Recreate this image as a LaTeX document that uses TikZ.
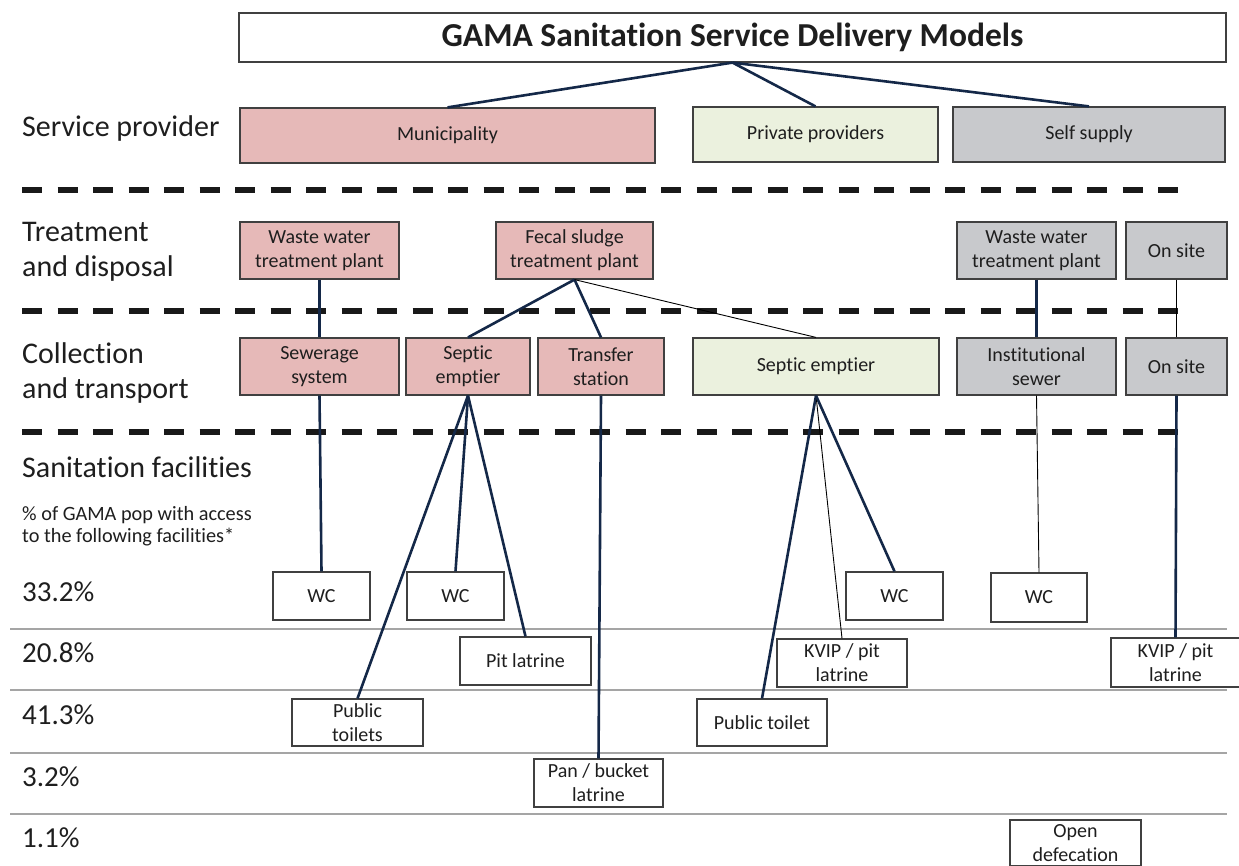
\documentclass[tikz,border=0pt]{standalone}
\usepackage{fontspec}
\setmainfont{Carlito}[Ligatures=NoCommon]
\definecolor{munfill}{RGB}{230,185,184}
\definecolor{privfill}{RGB}{235,241,222}
\definecolor{selffill}{RGB}{200,201,204}
\definecolor{boxline}{RGB}{64,64,64}
\definecolor{navy}{RGB}{20,40,72}
\definecolor{txt}{RGB}{30,30,30}
\definecolor{rulec}{RGB}{165,165,165}
\definecolor{dashc}{RGB}{25,25,25}
\tikzset{
  box/.style={draw=boxline, line width=1.2pt, inner sep=0pt, align=center,
    minimum height=57pt, text=txt, font=\fontsize{20}{24}\selectfont},
  mun/.style={box, fill=munfill},
  priv/.style={box, fill=privfill},
  self/.style={box, fill=selffill},
  fac/.style={box, fill=white, minimum height=48pt},
  link/.style={draw=navy, line width=2.6pt},
  thinlink/.style={draw=black, line width=0.9pt},
  sep/.style={draw=dashc, line width=6pt, dash pattern=on 20pt off 15.5pt},
  rowrule/.style={draw=rulec, line width=1.5pt},
  lab/.style={anchor=north west, inner sep=0pt, align=left, text=txt,
    font=\fontsize{30}{35}\selectfont},
  pct/.style={lab, anchor=base west, font=\fontsize{29}{35}\selectfont},
}
\begin{document}
\begin{tikzpicture}[x=1pt, y=-1pt]
\useasboundingbox (0,0) rectangle (1239,866);

% rules between the percentage rows
\foreach \yy in {629,690,753,814}
  \draw[rowrule] (10,\yy) -- (1227,\yy);

% level separators
\foreach \yy in {190,311,432}
  \draw[sep] (22,\yy) -- (1183,\yy);

% row labels (top edges set from the cap height of the first line)
\node[lab, anchor=base west] (lprov) at (22,137) {Service provider};
\node[lab, anchor=base west] (ltreat) at (22,277) {Treatment\\and disposal};
\node[lab, anchor=base west] (lcoll) at (22,398) {Collection\\and transport};
\node[lab, anchor=base west] (lfac) at (22,477) {Sanitation facilities};
\node[lab, anchor=base west, font=\fontsize{20.3}{22}\selectfont] (lnote) at (22,542)
  {\% of GAMA pop with access\\to the following facilities*};
\node[pct] (p1) at (22,601) {33.2\%};
\node[pct] (p2) at (22,662) {20.8\%};
\node[pct] (p3) at (22,724) {41.3\%};
\node[pct] (p4) at (22,786) {3.2\%};
\node[pct] (p5) at (22,847) {1.1\%};

% title
\node[box, fill=white, minimum width=987pt, minimum height=49pt,
  font=\bfseries\fontsize{33.5}{38}\selectfont] (title) at (732.5,37.5)
  {GAMA Sanitation Service Delivery Models};

% service providers
\node[mun, minimum width=415pt, minimum height=55pt] (muni) at (447.5,135.5) {Municipality};
\node[priv, minimum width=245pt, minimum height=55pt] (privp) at (815.5,134.5) {Private providers};
\node[self, minimum width=272pt, minimum height=55pt] (selfs) at (1089,134.5) {Self supply};

% treatment and disposal
\node[mun, minimum width=159pt] (wwtp) at (319.5,250.5) {Waste water\\treatment plant};
\node[mun, minimum width=157pt] (fstp) at (574.5,250.5) {Fecal sludge\\treatment plant};
\node[self, minimum width=159pt] (swwtp) at (1036.5,250.5) {Waste water\\treatment plant};
\node[self, minimum width=101pt] (sons1) at (1176.5,250.5) {On site};

% collection and transport
\node[mun, minimum width=159pt] (sewer) at (319.5,366.5) {Sewerage\\system};
\node[mun, minimum width=124pt] (msept) at (468,366.5) {Septic\\emptier};
\node[mun, minimum width=126pt] (trans) at (601,366.5) {Transfer\\station};
\node[priv, minimum width=246pt] (psept) at (816,366.5) {Septic emptier};
\node[self, minimum width=159pt] (inst) at (1036.5,366.5) {Institutional\\sewer};
\node[self, minimum width=101pt] (sons2) at (1176.5,366.5) {On site};

% sanitation facilities
\node[fac, minimum width=97pt] (wc1) at (321.5,596) {WC};
\node[fac, minimum width=97pt] (wc2) at (455.5,596) {WC};
\node[fac, minimum width=131pt] (pit) at (525.5,661) {Pit latrine};
\node[fac, minimum width=131pt, minimum height=47pt] (pubs) at (357.5,722.5) {Public\\toilets};
\node[fac, minimum width=129pt] (pan) at (598.5,783) {Pan / bucket\\latrine};
\node[fac, minimum width=97pt] (wc3) at (894.5,596) {WC};
\node[fac, minimum width=130pt] (kvip1) at (842,663) {KVIP / pit\\latrine};
\node[fac, minimum width=130pt, minimum height=47pt] (pub) at (762,722.5) {Public toilet};
\node[fac, minimum width=96pt, minimum height=49pt] (wc4) at (1039,597.5) {WC};
\node[fac, minimum width=129pt, minimum height=49pt] (kvip2) at (1175.5,662.5) {KVIP / pit\\latrine};
\node[fac, minimum width=131pt, minimum height=46pt] (open) at (1075.5,843) {Open\\defecation};

% connectors
\draw[link] (title.south) -- (muni.north);
\draw[link] (title.south) -- (privp.north);
\draw[link] (title.south) -- (selfs.north);
\draw[link] (wwtp.south) -- (sewer.north);
\draw[link] (fstp.south) -- (msept.north);
\draw[link] (fstp.south) -- (trans.north);
\draw[thinlink] (fstp.south) -- (psept.north);
\draw[link] (swwtp.south) -- (inst.north);
\draw[thinlink] (sons1.south) -- (sons2.north);
\draw[link] (sewer.south) -- (wc1.north);
\draw[link] (msept.south) -- (wc2.north);
\draw[link] (msept.south) -- (pit.north);
\draw[link] (msept.south) -- (pubs.north);
\draw[link] (trans.south) -- (pan.north);
\draw[link] (psept.south) -- (pub.north);
\draw[thinlink] (psept.south) -- (kvip1.north);
\draw[link] (psept.south) -- (wc3.north);
\draw[thinlink] (inst.south) -- (wc4.north);
\draw[link] (sons2.south) -- (kvip2.north);
\end{tikzpicture}
\end{document}
